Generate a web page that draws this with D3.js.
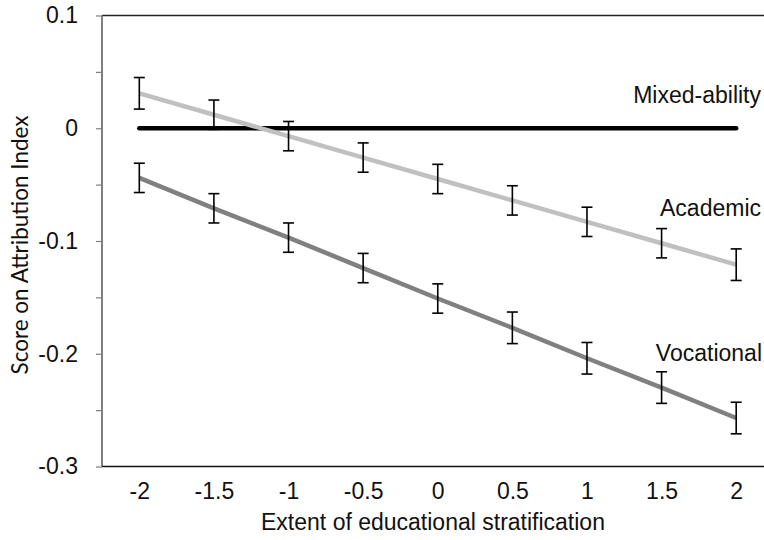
<!DOCTYPE html>
<html>
<head>
<meta charset="utf-8">
<script src="https://cdn.jsdelivr.net/npm/d3@7"></script>
<style>
  html, body { margin: 0; padding: 0; background: #fff; }
  svg { display: block; }
</style>
</head>
<body>
<svg id="chart" width="764" height="540"></svg>
<script>
// Stratification levels on the x axis
const categories = ["-2", "-1.5", "-1", "-0.5", "0", "0.5", "1", "1.5", "2"];

// Predicted scores per school track
const mixedAbility = [0, 0, 0, 0, 0, 0, 0, 0, 0];
const academic = [0.031, 0.012, -0.007, -0.026, -0.045, -0.064, -0.083, -0.102, -0.121];
const academicErr = [0.014, 0.013, 0.013, 0.013, 0.013, 0.013, 0.013, 0.013, 0.014];
const vocational = [-0.044, -0.071, -0.097, -0.124, -0.151, -0.177, -0.204, -0.230, -0.257];
const vocationalErr = [0.013, 0.013, 0.013, 0.013, 0.013, 0.014, 0.014, 0.014, 0.014];

// Y axis ticks (labelled every 0.1, minor marks every 0.05)
const yTicks = [0.1, 0.05, 0, -0.05, -0.1, -0.15, -0.2, -0.25, -0.3];
const yLabels = ["0.1", "0", "-0.1", "-0.2", "-0.3"];

const svg = d3.select("#chart");
const plotLeft = 102, plotRight = 773.5, plotTop = 15.5, plotBottom = 466.5;

const x = d3.scalePoint().domain(categories).range([plotLeft, plotRight]).padding(0.5);
const y = d3.scaleLinear().domain([-0.3, 0.1]).range([plotBottom, plotTop]);

const font = "'Liberation Sans', Arial, sans-serif";
const fontSize = "23px";

// Plot frame: top border
svg.append("line").attr("x1", plotLeft).attr("x2", 764).attr("y1", plotTop).attr("y2", plotTop)
  .attr("stroke", "#222").attr("stroke-width", 1.6);

// Y axis
const yAxis = d3.axisLeft(y).tickValues(yTicks).tickSize(6).tickPadding(18)
  .tickFormat(d => {
    const lab = yLabels.find(l => Math.abs(+l - d) < 1e-9);
    return lab === undefined ? "" : lab;
  });
const gy = svg.append("g").attr("transform", `translate(${plotLeft},0)`).call(yAxis);
gy.select(".domain").attr("stroke", "#7f7f7f").attr("stroke-width", 2)
  .attr("d", `M0,${plotTop}V${plotBottom}`);
gy.selectAll(".tick line").attr("stroke", "#7f7f7f").attr("stroke-width", 1.2);
gy.selectAll(".tick text").attr("fill", "#111").style("font-family", font).style("font-size", fontSize);

// X axis
const xAxis = d3.axisBottom(x).tickSize(0).tickPadding(16);
const gx = svg.append("g").attr("transform", `translate(0,${plotBottom})`).call(xAxis);
gx.select(".domain").attr("stroke", "#111").attr("stroke-width", 1.6)
  .attr("d", `M${plotLeft},0H764`);
gx.selectAll(".tick text").attr("fill", "#111").style("font-family", font).style("font-size", fontSize);

// Axis titles
svg.append("text").attr("x", 433).attr("y", 530).attr("text-anchor", "middle")
  .style("font-family", font).style("font-size", fontSize).attr("fill", "#111")
  .text("Extent of educational stratification");

svg.append("text").attr("transform", "translate(28,245) rotate(-90)").attr("text-anchor", "middle")
  .style("font-family", "Lato, 'Open Sans', sans-serif").style("font-size", "22.5px").attr("fill", "#111")
  .text("Score on Attribution Index");

// Series lines
const line = d3.line().x((d, i) => x(categories[i])).y(d => y(d));
const series = [
  { name: "Mixed-ability", values: mixedAbility, color: "#000000", cap: "round" },
  { name: "Academic", values: academic, color: "#c0c0c0", cap: "butt" },
  { name: "Vocational", values: vocational, color: "#808080", cap: "butt" }
];
series.forEach(s => {
  svg.append("path").datum(s.values).attr("d", line)
    .attr("fill", "none").attr("stroke", s.color).attr("stroke-width", 4.5)
    .attr("stroke-linecap", s.cap).attr("stroke-linejoin", "round");
});

// Error bars
function errorBars(values, errs) {
  const g = svg.append("g").attr("stroke", "#000").attr("stroke-width", 1.6).attr("fill", "none");
  values.forEach((v, i) => {
    const cx = x(categories[i]);
    const y1 = y(v + errs[i]), y2 = y(v - errs[i]);
    g.append("line").attr("x1", cx).attr("x2", cx).attr("y1", y1).attr("y2", y2);
    g.append("line").attr("x1", cx - 5.5).attr("x2", cx + 5.5).attr("y1", y1).attr("y2", y1);
    g.append("line").attr("x1", cx - 5.5).attr("x2", cx + 5.5).attr("y1", y2).attr("y2", y2);
  });
}
errorBars(academic, academicErr);
errorBars(vocational, vocationalErr);

// Series labels
const labelData = [
  { text: "Mixed-ability", x: 761, y: 103 },
  { text: "Academic", x: 761, y: 216 },
  { text: "Vocational", x: 762, y: 361 }
];
svg.selectAll(".series-label").data(labelData).enter().append("text")
  .attr("class", "series-label")
  .attr("x", d => d.x).attr("y", d => d.y).attr("text-anchor", "end")
  .style("font-family", font).style("font-size", fontSize).attr("fill", "#111")
  .text(d => d.text);
</script>
</body>
</html>
